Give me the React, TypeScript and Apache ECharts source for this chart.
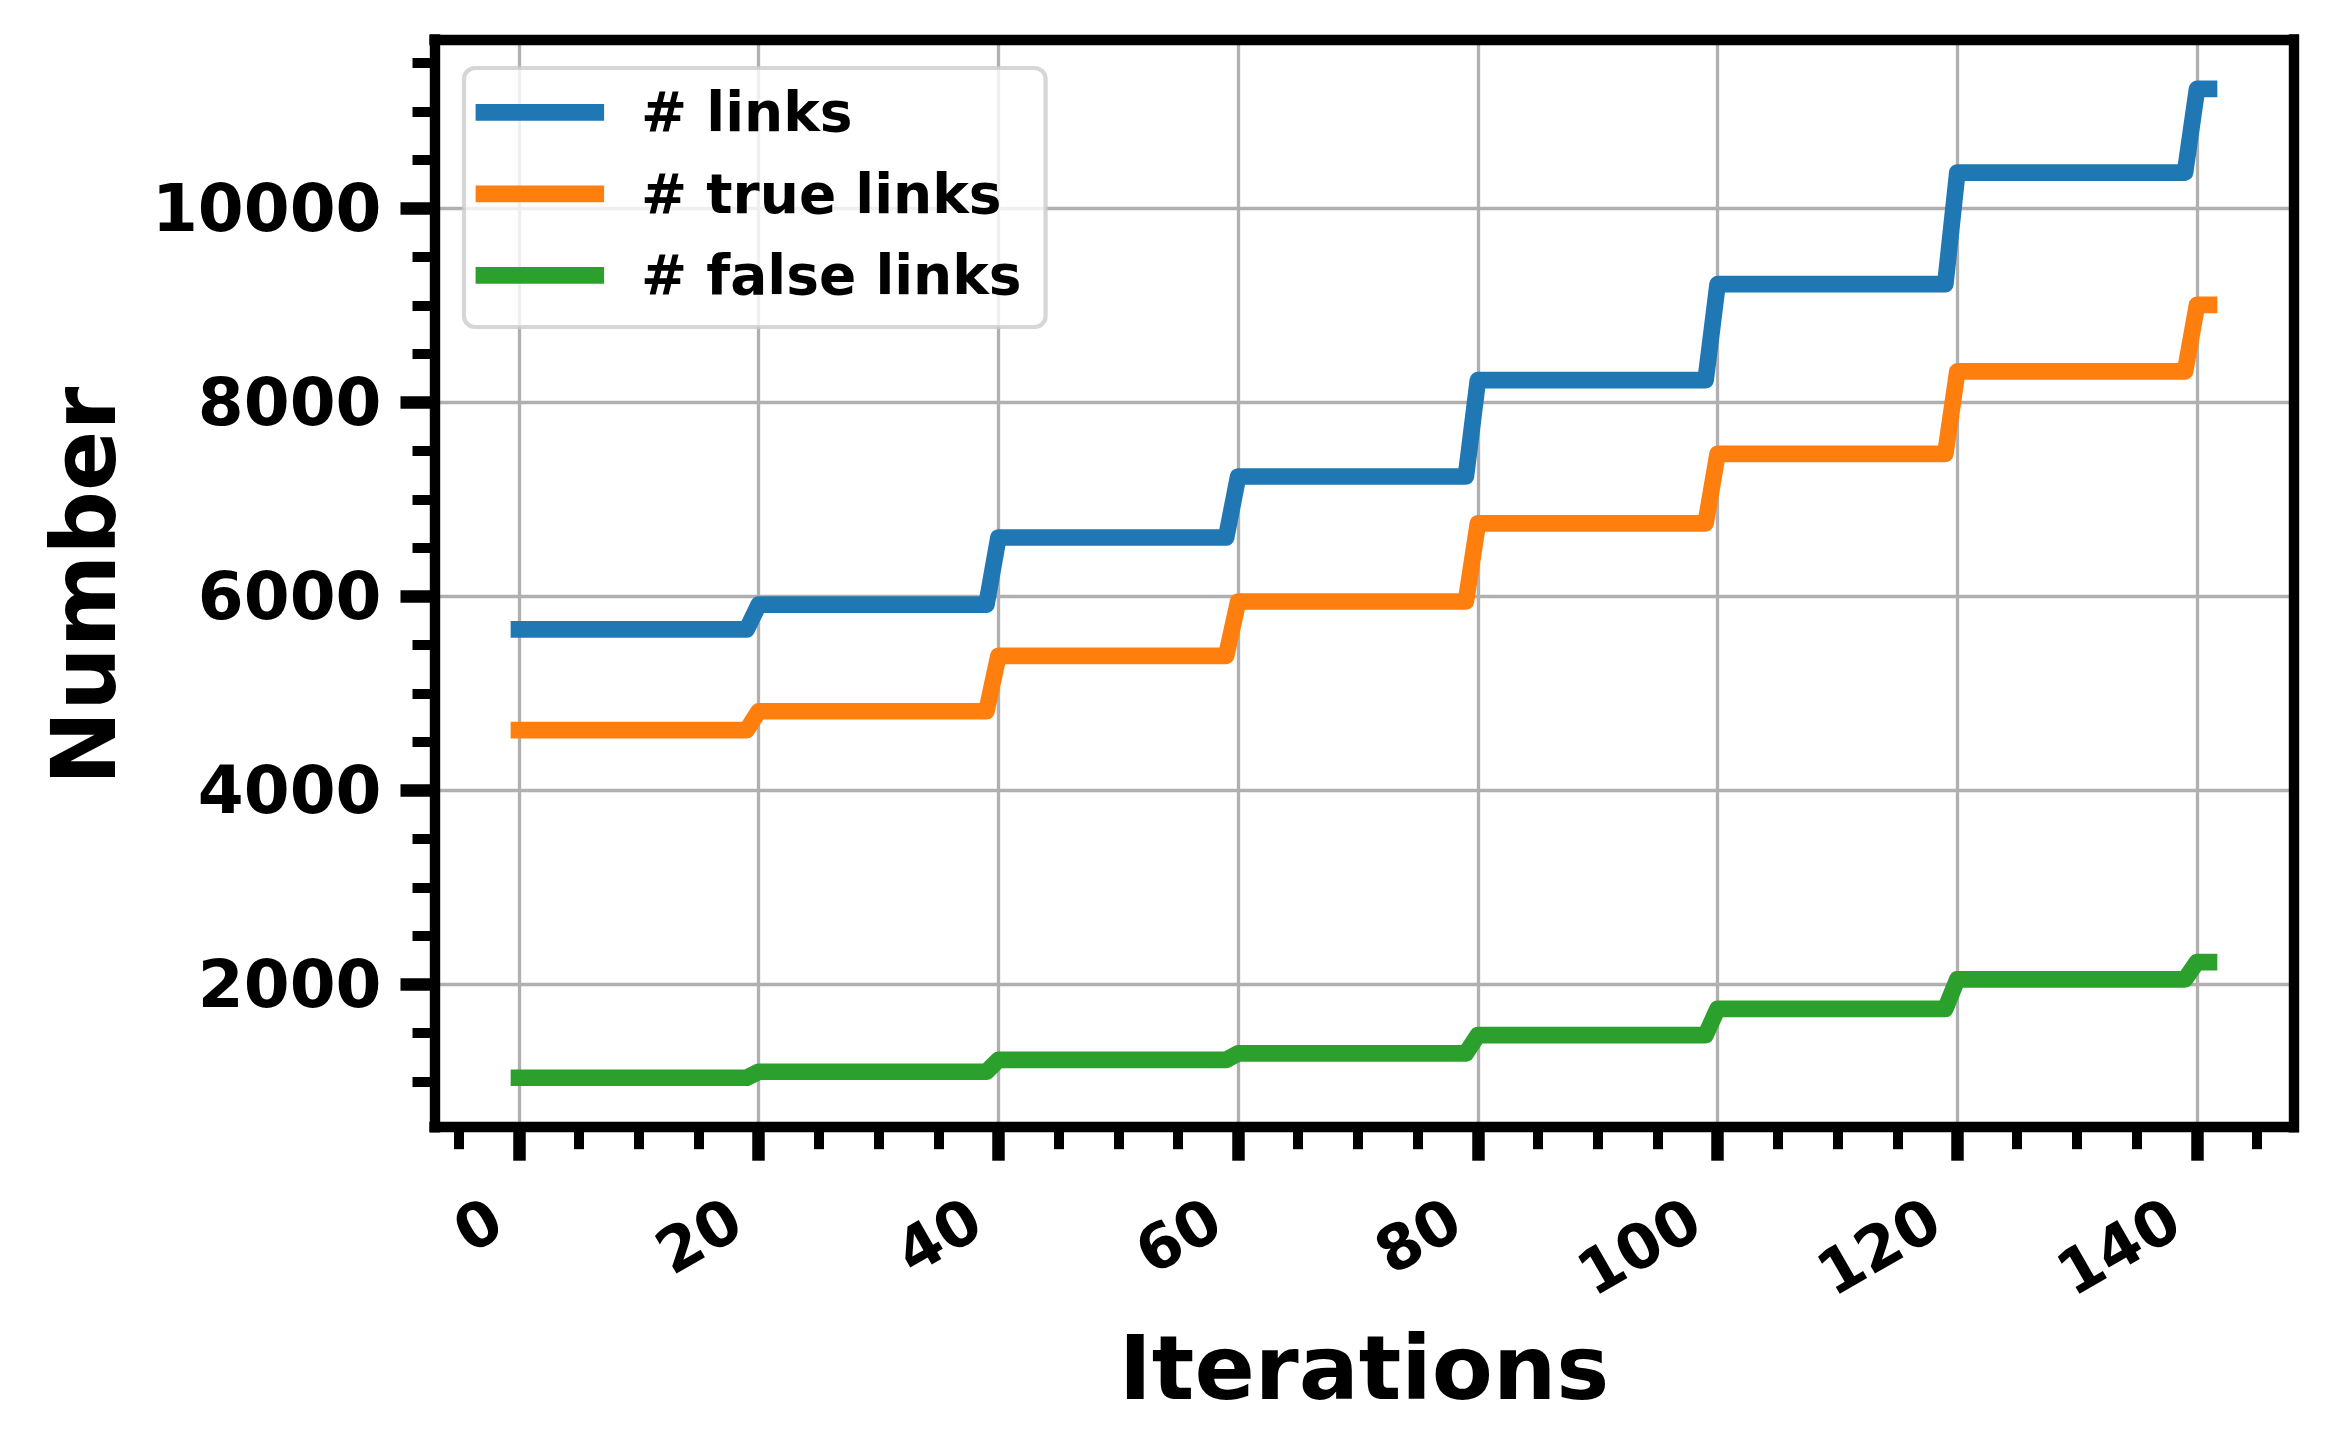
import React, { useEffect, useRef } from "react";
import * as echarts from "echarts";

// ---- data ----
const blockStart = [0, 20, 40, 60, 80, 100, 120, 140];
const blockEnd = [19, 39, 59, 79, 99, 119, 139, 141];
const linksLevels = [5660, 5915, 6608, 7237, 8230, 9220, 10371, 11233];
const trueLinksLevels = [4622, 4816, 5388, 5948, 6753, 7470, 8320, 9006];
const falseLinksLevels = [1037, 1099, 1222, 1289, 1476, 1748, 2052, 2230];

const seriesNames = ["# links", "# true links", "# false links"];
const seriesColors = ["#1f77b4", "#ff7f0e", "#2ca02c"];

const xMajorTicks = [0, 20, 40, 60, 80, 100, 120, 140];
const xMinorTicks = [-5, 5, 10, 15, 25, 30, 35, 45, 50, 55, 65, 70, 75, 85, 90, 95, 105, 110, 115, 125, 130, 135, 145];
const yMajorTicks = [2000, 4000, 6000, 8000, 10000];
const yMinorTicks = [1000, 1500, 2500, 3000, 3500, 4500, 5000, 5500, 6500, 7000, 7500, 8500, 9000, 9500, 10500, 11000, 11500];

const xMin = -7.05;
const xMax = 148.05;
const yMin = 527;
const yMax = 11743;

const xTitle = "Iterations";
const yTitle = "Number";

const FONT = '"DejaVu Sans", sans-serif';

function buildSteps(levels: number[]) {
  const pts: number[][] = [];
  blockStart.forEach((s, i) => {
    pts.push([s, levels[i]]);
    pts.push([blockEnd[i], levels[i]]);
  });
  return pts;
}

export default function App() {
  const ref = useRef<HTMLDivElement>(null);
  useEffect(() => {
    document.body.style.margin = "0";
    document.body.style.overflow = "hidden";
    const chart = echarts.init(ref.current!, null, { renderer: "svg" });
    const allLevels = [linksLevels, trueLinksLevels, falseLinksLevels];
    const grid = { left: 434.5, top: 39.5, right: 40.5, bottom: 328.8 };
    const spine = { show: true, onZero: false, lineStyle: { color: "#000", width: 10.4, cap: "square" } };
    const noLabel = { show: false };
    const option: any = {
      animation: false,
      backgroundColor: "#fff",
      grid: { ...grid, outerBoundsMode: "none", containLabel: false },
      legend: {
        data: seriesNames,
        orient: "vertical",
        left: 464,
        top: 68,
        icon: "rect",
        itemWidth: 128.5,
        itemHeight: 16.7,
        itemGap: 21.5,
        padding: [14.3, 24, 21.7, 11.6],
        backgroundColor: "rgba(255,255,255,0.8)",
        borderColor: "rgba(204,204,204,0.8)",
        borderWidth: 4.2,
        borderRadius: 11,
        selectedMode: false,
        itemStyle: { borderWidth: 0 },
        textStyle: {
          fontFamily: FONT,
          fontWeight: "bold",
          fontSize: 55,
          color: "#000",
          lineHeight: 60,
          padding: [0, 0, 0, 32],
        },
      },
      xAxis: [
        {
          type: "value",
          min: xMin,
          max: xMax,
          position: "bottom",
          axisLine: { show: false, onZero: false },
          axisTick: { show: true, customValues: xMajorTicks, length: 33.5, lineStyle: { color: "#000", width: 12.5 } },
          axisLabel: {
            show: true,
            customValues: xMajorTicks,
            formatter: (v: number) => String(v),
            rotate: 30,
            margin: 74,
            padding: [0, 26, 0, 0],
            fontFamily: FONT,
            fontWeight: "bold",
            fontSize: 62,
            color: "#000",
          },
          splitLine: { show: true, lineStyle: { color: "#b0b0b0", width: 3.3 } },
        },
        {
          type: "value",
          min: xMin,
          max: xMax,
          position: "bottom",
          z: 5,
          axisLine: spine,
          axisTick: { show: true, customValues: xMinorTicks, length: 22, lineStyle: { color: "#000", width: 10 } },
          axisLabel: noLabel,
          splitLine: { show: false },
        },
        {
          type: "value",
          min: xMin,
          max: xMax,
          position: "top",
          z: 5,
          axisLine: spine,
          axisTick: { show: false },
          axisLabel: noLabel,
          splitLine: { show: false },
        },
      ],
      yAxis: [
        {
          type: "value",
          min: yMin,
          max: yMax,
          position: "left",
          axisLine: { show: false, onZero: false },
          axisTick: { show: true, customValues: yMajorTicks, length: 34, lineStyle: { color: "#000", width: 12.5 } },
          axisLabel: {
            show: true,
            customValues: yMajorTicks,
            formatter: (v: number) => String(v),
            margin: 53,
            padding: [4, 0, 0, 0],
            fontFamily: FONT,
            fontWeight: "bold",
            fontSize: 66,
            color: "#000",
          },
          splitLine: { show: true, lineStyle: { color: "#b0b0b0", width: 3.3 } },
        },
        {
          type: "value",
          min: yMin,
          max: yMax,
          position: "left",
          z: 5,
          axisLine: spine,
          axisTick: { show: true, customValues: yMinorTicks, length: 22, lineStyle: { color: "#000", width: 10 } },
          axisLabel: noLabel,
          splitLine: { show: false },
        },
        {
          type: "value",
          min: yMin,
          max: yMax,
          position: "right",
          z: 5,
          axisLine: spine,
          axisTick: { show: false },
          axisLabel: noLabel,
          splitLine: { show: false },
        },
      ],
      series: seriesNames.map((name, i) => ({
        name,
        type: "line",
        xAxisIndex: 0,
        yAxisIndex: 0,
        data: buildSteps(allLevels[i]),
        showSymbol: false,
        symbol: "none",
        silent: true,
        color: seriesColors[i],
        itemStyle: { color: seriesColors[i] },
        lineStyle: { color: seriesColors[i], width: 16.7, cap: "square", join: "round" },
        emphasis: { disabled: true },
      })),
      graphic: [
        {
          type: "text",
          x: 1364,
          y: 1367.5,
          style: {
            text: xTitle,
            fontFamily: FONT,
            fontWeight: "bold",
            fontSize: 89,
            fill: "#000",
            align: "center",
            verticalAlign: "middle",
            textAlign: "center",
            textVerticalAlign: "middle",
          },
        },
        {
          type: "text",
          x: 84,
          y: 586,
          rotation: Math.PI / 2,
          style: {
            text: yTitle,
            fontFamily: FONT,
            fontWeight: "bold",
            fontSize: 89,
            fill: "#000",
            align: "center",
            verticalAlign: "middle",
            textAlign: "center",
            textVerticalAlign: "middle",
          },
        },
      ],
    };
    chart.setOption(option);
    return () => chart.dispose();
  }, []);
  return <div ref={ref} style={{ width: 2334, height: 1456 }} />;
}
